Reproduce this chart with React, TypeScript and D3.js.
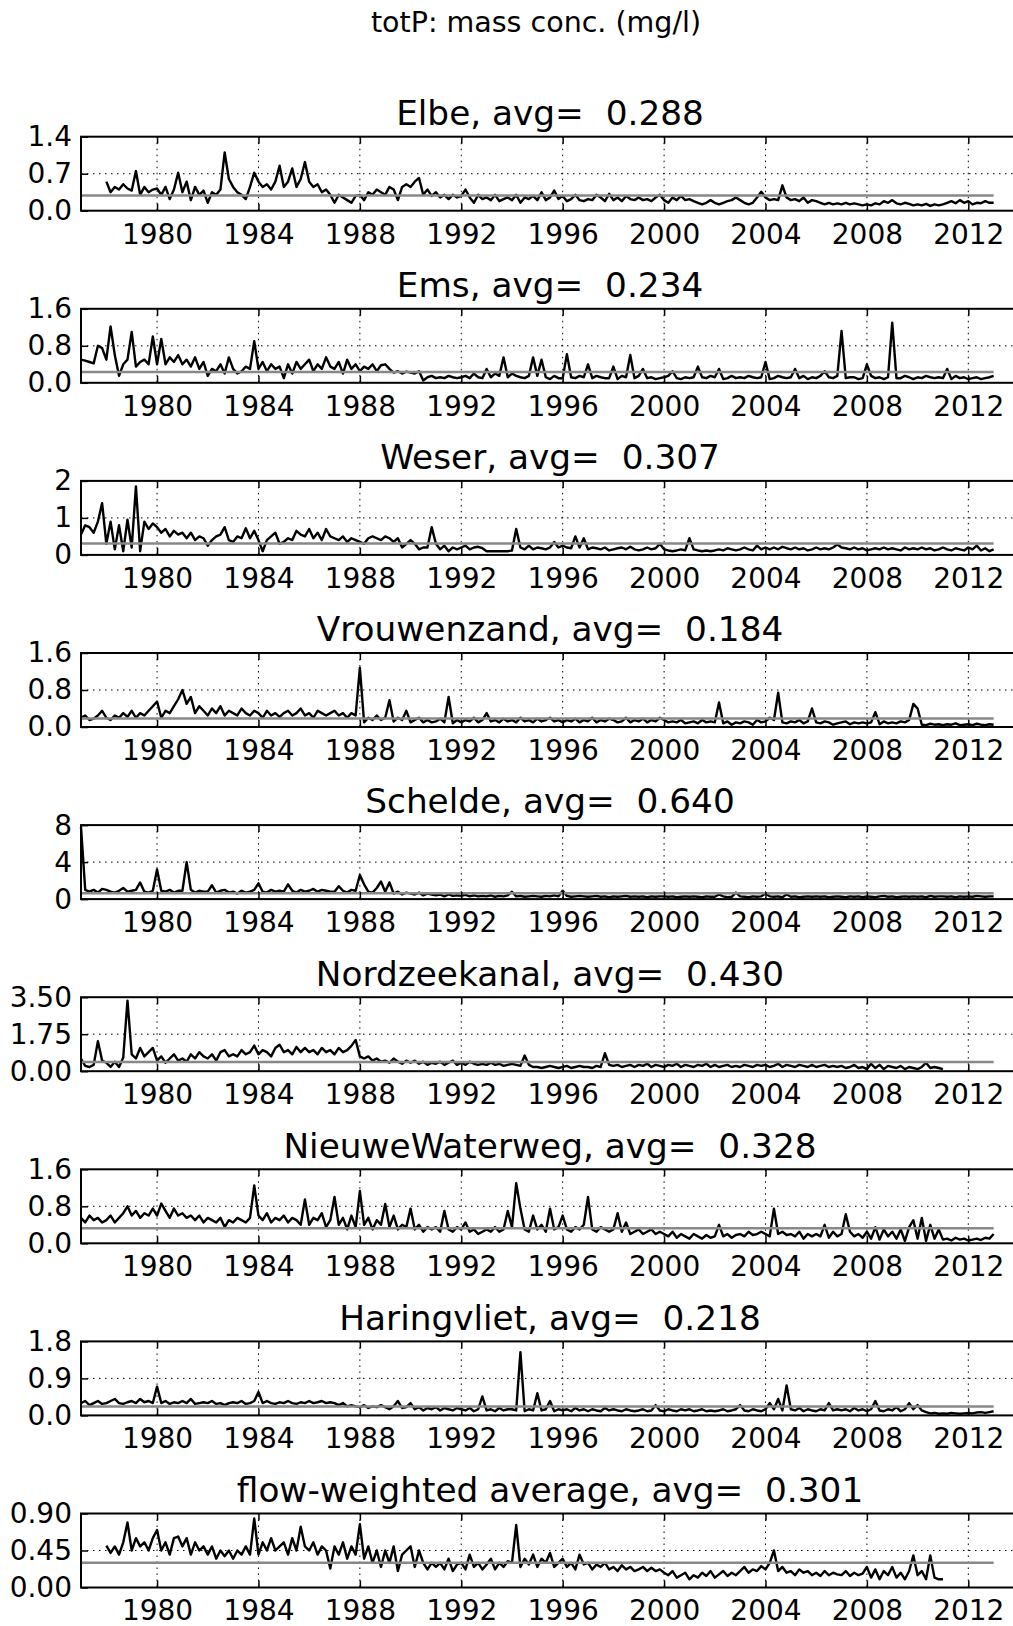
import React, { useEffect, useRef } from "react";
import * as d3 from "d3";

// stations, one panel each
const stations = [
  "Elbe",
  "Ems",
  "Weser",
  "Vrouwenzand",
  "Schelde",
  "Nordzeekanal",
  "NieuweWaterweg",
  "Haringvliet",
  "flow-weighted average",
];
const averages = [0.288, 0.234, 0.307, 0.184, 0.64, 0.43, 0.328, 0.218, 0.301];
const yTickLabels = [
  ["0.0", "0.7", "1.4"],
  ["0.0", "0.8", "1.6"],
  ["0", "1", "2"],
  ["0.0", "0.8", "1.6"],
  ["0", "4", "8"],
  ["0.00", "1.75", "3.50"],
  ["0.0", "0.8", "1.6"],
  ["0.0", "0.9", "1.8"],
  ["0.00", "0.45", "0.90"],
];
const xTickYears = [1980, 1984, 1988, 1992, 1996, 2000, 2004, 2008, 2012];
const startYears = [1978, 1977, 1977, 1977, 1977, 1977, 1977, 1977, 1978];
const samplesPerYear = 6; // bi-monthly values

// totP (mg/l), one row per year
const elbe = [
  0.55, 0.35, 0.45, 0.4, 0.5, 0.42,
  0.38, 0.75, 0.3, 0.45, 0.35, 0.4,
  0.42, 0.3, 0.45, 0.22, 0.4, 0.72,
  0.35, 0.55, 0.2, 0.45, 0.3, 0.38,
  0.15, 0.35, 0.3, 0.4, 1.1, 0.6,
  0.45, 0.35, 0.3, 0.22, 0.45, 0.72,
  0.55, 0.45, 0.5, 0.4, 0.55, 0.85,
  0.45, 0.55, 0.8, 0.45, 0.6, 0.92,
  0.55, 0.45, 0.5, 0.35, 0.4, 0.3,
  0.15, 0.3, 0.25, 0.2, 0.15, 0.28,
  0.3, 0.2, 0.35, 0.3, 0.4, 0.35,
  0.3, 0.45, 0.4, 0.2, 0.45, 0.5,
  0.45, 0.55, 0.62, 0.3, 0.4, 0.28,
  0.35, 0.25, 0.3, 0.22, 0.3, 0.25,
  0.28, 0.4, 0.25, 0.15, 0.3, 0.22,
  0.25, 0.2, 0.3, 0.18, 0.22, 0.25,
  0.2, 0.3, 0.15, 0.25, 0.22, 0.28,
  0.2, 0.35, 0.2, 0.25, 0.38, 0.22,
  0.28, 0.18, 0.22, 0.3, 0.2, 0.18,
  0.22, 0.2, 0.3, 0.25, 0.18, 0.32,
  0.2, 0.25, 0.18, 0.28, 0.22, 0.2,
  0.25, 0.2, 0.22, 0.18, 0.25, 0.3,
  0.2, 0.15, 0.25, 0.2, 0.28, 0.2,
  0.22, 0.18, 0.15, 0.12, 0.15, 0.2,
  0.15, 0.12, 0.15, 0.18, 0.2, 0.25,
  0.2, 0.15, 0.12, 0.15, 0.25, 0.36,
  0.25, 0.2, 0.22, 0.2, 0.48, 0.25,
  0.2, 0.22, 0.18, 0.25, 0.15, 0.2,
  0.18, 0.15, 0.12, 0.15, 0.12, 0.14,
  0.12, 0.15, 0.12, 0.14, 0.12, 0.1,
  0.12, 0.1, 0.14, 0.12, 0.18, 0.15,
  0.2, 0.14, 0.12, 0.15, 0.13, 0.1,
  0.12, 0.1, 0.13, 0.09, 0.12, 0.1,
  0.12, 0.15, 0.18, 0.14, 0.2, 0.15,
  0.18, 0.12, 0.15, 0.14, 0.18, 0.15,
  0.15,
];
const ems = [
  0.5, 0.48, 0.45, 0.42, 0.8, 0.75,
  0.5, 1.22, 0.6, 0.15, 0.4, 0.5,
  1.1, 0.35, 0.45, 0.5, 0.4, 1.0,
  0.4, 0.95, 0.4, 0.55, 0.45, 0.6,
  0.4, 0.5, 0.35, 0.55, 0.3, 0.45,
  0.15, 0.3, 0.25, 0.4, 0.2, 0.55,
  0.3, 0.2, 0.25, 0.35, 0.3, 0.9,
  0.3, 0.45, 0.25, 0.4, 0.3, 0.35,
  0.1, 0.4, 0.2, 0.45, 0.3, 0.4,
  0.5, 0.25, 0.4, 0.3, 0.55, 0.35,
  0.3, 0.45, 0.2, 0.5, 0.3, 0.4,
  0.25, 0.35, 0.3, 0.4, 0.25, 0.38,
  0.4, 0.3, 0.22, 0.25, 0.2, 0.24,
  0.22, 0.2, 0.25, 0.05, 0.12, 0.15,
  0.1, 0.12, 0.1, 0.15, 0.12, 0.1,
  0.12, 0.15, 0.1, 0.2, 0.12, 0.1,
  0.3, 0.12, 0.2, 0.15, 0.55, 0.12,
  0.2, 0.15, 0.12, 0.1, 0.15, 0.55,
  0.15, 0.5, 0.12, 0.08, 0.15, 0.1,
  0.1, 0.62, 0.12, 0.1, 0.15, 0.12,
  0.4, 0.1, 0.15, 0.12, 0.1, 0.1,
  0.35, 0.08, 0.15, 0.12, 0.6, 0.1,
  0.15, 0.3, 0.1, 0.12, 0.08, 0.1,
  0.12, 0.15, 0.25, 0.1, 0.08, 0.12,
  0.1, 0.12, 0.35, 0.12, 0.1, 0.15,
  0.12, 0.3, 0.08, 0.1, 0.15, 0.1,
  0.12, 0.1, 0.15, 0.12, 0.1, 0.12,
  0.45, 0.08, 0.1, 0.15, 0.12, 0.1,
  0.12, 0.3, 0.1, 0.15, 0.08, 0.12,
  0.1, 0.15, 0.25, 0.12, 0.1, 0.15,
  1.12, 0.1, 0.12, 0.12, 0.08, 0.1,
  0.4, 0.15, 0.1, 0.12, 0.08, 0.12,
  1.3, 0.1, 0.1, 0.15, 0.12, 0.08,
  0.12, 0.1, 0.15, 0.12, 0.1, 0.12,
  0.1, 0.3, 0.08, 0.15, 0.1, 0.12,
  0.08, 0.1, 0.12, 0.08, 0.1, 0.12,
  0.15,
];
const weser = [
  0.55, 0.8, 0.75, 0.6, 0.9, 1.4,
  0.3, 0.9, 0.15, 0.8, 0.1, 0.95,
  0.2, 1.85, 0.1, 0.9, 0.7, 0.85,
  0.75, 0.6, 0.7, 0.5, 0.65, 0.55,
  0.6, 0.45, 0.6, 0.4, 0.5, 0.45,
  0.25, 0.4, 0.5, 0.55, 0.75, 0.4,
  0.35, 0.5, 0.45, 0.72, 0.45, 0.65,
  0.4, 0.1, 0.4, 0.5, 0.6, 0.3,
  0.35, 0.45, 0.4, 0.65, 0.55, 0.5,
  0.7, 0.45, 0.6, 0.4, 0.7, 0.5,
  0.45, 0.4, 0.5, 0.35, 0.45, 0.4,
  0.35, 0.3, 0.45, 0.5, 0.45, 0.4,
  0.5, 0.45, 0.35, 0.45, 0.2, 0.3,
  0.4, 0.3, 0.15, 0.2, 0.2, 0.75,
  0.3, 0.15, 0.25, 0.1, 0.2, 0.15,
  0.2, 0.25, 0.15, 0.2, 0.22, 0.18,
  0.1, 0.1, 0.1, 0.1, 0.1, 0.1,
  0.12, 0.7, 0.2, 0.15, 0.25, 0.15,
  0.2, 0.18, 0.15, 0.2, 0.35, 0.2,
  0.25, 0.2, 0.18, 0.5, 0.2, 0.45,
  0.15, 0.2, 0.18, 0.15, 0.2, 0.12,
  0.15, 0.18, 0.2, 0.15, 0.22, 0.15,
  0.12, 0.15, 0.2, 0.15, 0.18, 0.3,
  0.15, 0.12, 0.1, 0.12, 0.15, 0.12,
  0.45, 0.15, 0.12, 0.1, 0.12, 0.1,
  0.12, 0.15, 0.12, 0.18, 0.15, 0.12,
  0.15, 0.2, 0.15, 0.12, 0.25, 0.15,
  0.2, 0.15, 0.2, 0.15, 0.22, 0.18,
  0.15, 0.2, 0.15, 0.18, 0.12, 0.15,
  0.2, 0.15, 0.18, 0.15, 0.2, 0.28,
  0.2, 0.18, 0.15, 0.2, 0.15, 0.18,
  0.12, 0.15, 0.18, 0.15, 0.2, 0.15,
  0.18, 0.15, 0.12, 0.2, 0.15, 0.18,
  0.15, 0.2, 0.15, 0.18, 0.12, 0.15,
  0.2, 0.15, 0.12, 0.18, 0.15, 0.12,
  0.2, 0.15, 0.25, 0.12, 0.18, 0.1,
  0.15,
];
const vrouwenzand = [
  0.2, 0.25, 0.15, 0.18, 0.25, 0.35,
  0.2, 0.15, 0.25, 0.2, 0.3, 0.22,
  0.35, 0.2, 0.3, 0.25, 0.35, 0.45,
  0.55, 0.2, 0.35, 0.3, 0.45, 0.6,
  0.8, 0.5, 0.65, 0.3, 0.45, 0.35,
  0.25, 0.4, 0.3, 0.45, 0.25, 0.35,
  0.3, 0.25, 0.4, 0.3, 0.25, 0.35,
  0.3, 0.2, 0.35, 0.25, 0.3, 0.22,
  0.3, 0.35, 0.25, 0.3, 0.4, 0.25,
  0.3, 0.2, 0.35, 0.3, 0.25, 0.3,
  0.35, 0.25, 0.3, 0.2, 0.3, 0.25,
  1.28, 0.1, 0.2, 0.15, 0.25, 0.15,
  0.2, 0.58, 0.12, 0.2, 0.15, 0.35,
  0.1, 0.15, 0.2, 0.1, 0.15, 0.1,
  0.12, 0.18, 0.1, 0.65, 0.08, 0.15,
  0.1, 0.15, 0.12, 0.2, 0.1, 0.15,
  0.3, 0.12, 0.15, 0.1, 0.18, 0.12,
  0.15, 0.1, 0.2, 0.12, 0.15, 0.1,
  0.18, 0.12, 0.15, 0.2, 0.12, 0.15,
  0.1, 0.15, 0.12, 0.18, 0.1, 0.15,
  0.12, 0.2, 0.1, 0.15, 0.12, 0.18,
  0.15, 0.1, 0.12, 0.2, 0.1, 0.15,
  0.12, 0.18, 0.1, 0.15, 0.12, 0.2,
  0.15, 0.1, 0.12, 0.1, 0.15, 0.08,
  0.1, 0.12, 0.08, 0.15, 0.1, 0.12,
  0.1, 0.53, 0.08, 0.12, 0.05, 0.1,
  0.08, 0.12, 0.1, 0.05, 0.15, 0.1,
  0.12, 0.2, 0.15, 0.74, 0.1, 0.08,
  0.12, 0.1, 0.15, 0.08, 0.12, 0.4,
  0.1, 0.08, 0.12, 0.1, 0.05, 0.08,
  0.1, 0.12, 0.06, 0.1, 0.08, 0.1,
  0.08, 0.1, 0.32, 0.06, 0.12, 0.08,
  0.1, 0.08, 0.12, 0.1, 0.15, 0.5,
  0.4, 0.05, 0.04, 0.07, 0.05, 0.06,
  0.04, 0.06, 0.05, 0.08, 0.04, 0.05,
  0.06, 0.04, 0.07, 0.05, 0.04, 0.06,
  0.05,
];
const schelde = [
  7.8, 1.0, 0.8, 1.0, 0.7, 1.1,
  1.0, 0.8, 0.7, 0.9, 1.2, 0.8,
  0.9, 1.0, 1.8, 0.8, 0.7, 0.9,
  3.2, 0.9, 0.8, 1.0, 0.7, 0.9,
  0.9, 4.0, 1.0, 0.7, 0.9, 0.8,
  0.8, 1.5, 0.7, 0.9, 1.0, 0.7,
  0.8, 0.6, 0.9, 0.7, 0.8, 1.0,
  1.7, 0.8, 0.7, 1.0, 0.8, 0.9,
  0.8, 1.6, 0.9, 0.7, 1.0, 0.8,
  0.9, 1.1, 0.8, 1.0, 0.9, 0.8,
  0.8, 1.4, 0.9, 0.7, 1.0, 0.9,
  2.6, 1.6, 0.8, 0.7, 1.2, 1.9,
  0.8, 1.8, 0.6, 0.8, 0.5, 0.7,
  0.6, 0.5, 0.7, 0.4, 0.6, 0.5,
  0.4, 0.5, 0.3, 0.5, 0.35, 0.4,
  0.35, 0.45, 0.3, 0.4, 0.3, 0.35,
  0.3, 0.4, 0.25, 0.35, 0.3, 0.4,
  0.8, 0.3, 0.35, 0.25, 0.3, 0.35,
  0.3, 0.25, 0.35, 0.3, 0.4, 0.3,
  0.9, 0.35, 0.25, 0.3, 0.35, 0.3,
  0.25, 0.3, 0.35, 0.25, 0.3, 0.2,
  0.3, 0.25, 0.3, 0.35, 0.25, 0.3,
  0.25, 0.3, 0.2, 0.3, 0.25, 0.3,
  0.3, 0.25, 0.3, 0.2, 0.25, 0.3,
  0.25, 0.3, 0.25, 0.2, 0.3, 0.25,
  0.25, 0.5, 0.3, 0.2, 0.25, 0.7,
  0.3, 0.25, 0.2, 0.3, 0.25, 0.3,
  0.6, 0.3, 0.25, 0.3, 0.2, 0.5,
  0.25, 0.3, 0.2, 0.25, 0.3, 0.25,
  0.3, 0.25, 0.3, 0.2, 0.25, 0.3,
  0.25, 0.2, 0.3, 0.25, 0.3, 0.2,
  0.3, 0.25, 0.2, 0.3, 0.35, 0.25,
  0.3, 0.2, 0.25, 0.3, 0.25, 0.3,
  0.25, 0.3, 0.2, 0.35, 0.25, 0.3,
  0.3, 0.25, 0.3, 0.2, 0.3, 0.25,
  0.3, 0.25, 0.35, 0.3, 0.25, 0.3,
  0.3,
];
const nordzeekanal = [
  0.58, 0.25, 0.2, 0.3, 1.42, 0.5,
  0.4, 0.2, 0.45, 0.2, 0.65, 3.34,
  0.8, 0.6, 1.1, 0.7, 0.9, 1.1,
  0.5, 0.7, 0.4, 0.6, 0.8, 0.5,
  0.6, 0.45, 0.8, 0.6, 0.9, 0.7,
  0.6, 0.8, 0.5, 0.9, 1.0, 0.7,
  0.8, 0.7, 1.0, 0.8, 0.9, 1.21,
  0.8, 1.0, 0.9, 0.7, 1.1, 1.25,
  0.9, 1.0, 0.8, 1.15, 0.9, 1.1,
  0.9, 1.0, 0.8, 1.1, 0.9, 1.0,
  0.8, 1.1, 0.9, 1.0, 1.2, 1.48,
  0.7, 0.6, 0.7, 0.5, 0.6, 0.45,
  0.5, 0.4, 0.6, 0.45, 0.35, 0.5,
  0.4, 0.5, 0.35, 0.45, 0.3, 0.4,
  0.35, 0.45, 0.3, 0.4, 0.5, 0.3,
  0.4, 0.3, 0.45, 0.35, 0.3, 0.35,
  0.3, 0.4, 0.3, 0.35, 0.25, 0.3,
  0.35, 0.3, 0.25, 0.74, 0.3, 0.2,
  0.2, 0.15, 0.2, 0.25, 0.2, 0.15,
  0.2, 0.25, 0.15, 0.2, 0.25, 0.2,
  0.2, 0.15, 0.25, 0.2, 0.85, 0.3,
  0.25, 0.3, 0.2, 0.25, 0.3, 0.2,
  0.3, 0.25, 0.35, 0.2, 0.3, 0.25,
  0.2, 0.3, 0.25, 0.35, 0.2, 0.3,
  0.25, 0.2, 0.3, 0.25, 0.35, 0.2,
  0.3, 0.2, 0.25, 0.3, 0.2, 0.25,
  0.2, 0.3, 0.25, 0.2, 0.3, 0.25,
  0.3, 0.2, 0.25, 0.35, 0.2, 0.3,
  0.25, 0.2, 0.3, 0.25, 0.2, 0.3,
  0.2, 0.25, 0.3, 0.2, 0.25, 0.2,
  0.25, 0.15, 0.2, 0.3, 0.15, 0.2,
  0.1, 0.35, 0.15, 0.3, 0.1, 0.25,
  0.2, 0.15, 0.25, 0.1, 0.2, 0.15,
  0.1, 0.2, 0.4, 0.15, 0.2, 0.15,
  0.1,
];
const nieuweWaterweg = [
  0.55, 0.45, 0.6, 0.5, 0.55, 0.45,
  0.5, 0.6, 0.45, 0.55, 0.65, 0.8,
  0.6, 0.7, 0.55, 0.65, 0.6, 0.75,
  0.6, 0.86, 0.7, 0.55, 0.75, 0.6,
  0.65, 0.55, 0.6, 0.5, 0.6, 0.45,
  0.55, 0.5, 0.45, 0.55, 0.35, 0.5,
  0.45, 0.55, 0.5, 0.45, 0.55, 1.25,
  0.6, 0.5, 0.65, 0.45, 0.55, 0.5,
  0.6, 0.45, 0.55, 0.5, 0.4, 0.95,
  0.4, 0.55, 0.5, 0.65, 0.35, 0.5,
  1.0, 0.4, 0.55, 0.3, 0.6, 0.35,
  1.13, 0.4, 0.55, 0.3, 0.5, 0.4,
  0.85, 0.35, 0.6, 0.3, 0.4, 0.35,
  0.75, 0.3, 0.4, 0.25, 0.35, 0.3,
  0.35, 0.25, 0.7, 0.3, 0.25, 0.35,
  0.3, 0.45, 0.25, 0.3, 0.2, 0.25,
  0.3, 0.25, 0.35, 0.25, 0.3, 0.7,
  0.35, 1.3, 0.75, 0.3, 0.25, 0.6,
  0.3, 0.4, 0.25, 0.75, 0.3, 0.35,
  0.6, 0.3, 0.25, 0.35, 0.3, 0.4,
  1.0, 0.3, 0.25, 0.35, 0.3, 0.25,
  0.3, 0.65, 0.25, 0.45, 0.2, 0.25,
  0.3, 0.2, 0.25, 0.3, 0.2, 0.25,
  0.2, 0.15, 0.25, 0.12, 0.2, 0.15,
  0.1, 0.2, 0.15, 0.1, 0.18, 0.12,
  0.15, 0.4, 0.15, 0.2, 0.12, 0.18,
  0.2, 0.15, 0.25, 0.18, 0.2, 0.25,
  0.2, 0.15, 0.75, 0.2, 0.25, 0.18,
  0.2, 0.15, 0.25, 0.1, 0.2, 0.15,
  0.2, 0.15, 0.4, 0.12, 0.25, 0.15,
  0.2, 0.63, 0.25, 0.15, 0.2, 0.12,
  0.25, 0.1, 0.35, 0.08, 0.3, 0.15,
  0.25, 0.1, 0.3, 0.05, 0.35, 0.5,
  0.1, 0.55, 0.05, 0.4, 0.1, 0.3,
  0.08, 0.1, 0.06, 0.12, 0.08, 0.1,
  0.06, 0.08, 0.1, 0.07, 0.12, 0.1,
  0.2,
];
const haringvliet = [
  0.3, 0.35, 0.25, 0.3, 0.35, 0.28,
  0.3, 0.35, 0.4, 0.3, 0.28, 0.32,
  0.35, 0.3, 0.4, 0.32, 0.35, 0.3,
  0.7, 0.3, 0.35, 0.28, 0.32, 0.3,
  0.35, 0.3, 0.4, 0.28, 0.3, 0.32,
  0.3, 0.35, 0.28, 0.3, 0.25, 0.3,
  0.32, 0.3, 0.35, 0.28, 0.3, 0.35,
  0.57, 0.3, 0.35, 0.3, 0.28, 0.32,
  0.3, 0.35, 0.3, 0.28, 0.32, 0.3,
  0.35, 0.3, 0.32, 0.35, 0.3, 0.32,
  0.3, 0.25, 0.3, 0.22, 0.25, 0.22,
  0.2, 0.25, 0.18, 0.22, 0.2, 0.25,
  0.2, 0.15, 0.22, 0.35, 0.18, 0.2,
  0.3, 0.15, 0.2, 0.12, 0.18, 0.15,
  0.2, 0.12, 0.18, 0.15, 0.12, 0.18,
  0.15, 0.12, 0.18, 0.1, 0.15, 0.46,
  0.12, 0.15, 0.1, 0.18, 0.12, 0.15,
  0.15, 0.12, 1.54, 0.1, 0.15, 0.12,
  0.54, 0.12, 0.15, 0.35, 0.1, 0.15,
  0.12, 0.15, 0.1, 0.18, 0.12, 0.15,
  0.1, 0.15, 0.12, 0.1, 0.18, 0.12,
  0.15, 0.12, 0.1, 0.15, 0.12, 0.1,
  0.12, 0.15, 0.1, 0.12, 0.25, 0.12,
  0.1, 0.15, 0.12, 0.1, 0.15, 0.12,
  0.15, 0.1, 0.12, 0.15, 0.1, 0.12,
  0.1, 0.12, 0.15, 0.1, 0.12, 0.15,
  0.25, 0.12, 0.1, 0.15, 0.12, 0.1,
  0.15, 0.3, 0.15, 0.4, 0.12, 0.73,
  0.15, 0.12, 0.18, 0.1, 0.15, 0.12,
  0.1, 0.15, 0.12, 0.3, 0.12, 0.15,
  0.12, 0.15, 0.1, 0.18, 0.12, 0.15,
  0.1, 0.15, 0.35, 0.12, 0.1, 0.15,
  0.12, 0.2, 0.1, 0.15, 0.3, 0.15,
  0.25, 0.12, 0.08, 0.05, 0.06, 0.04,
  0.05, 0.04, 0.06, 0.05, 0.04, 0.05,
  0.06, 0.05, 0.07, 0.08, 0.06, 0.08,
  0.1,
];
const flowWeighted = [
  0.51, 0.42, 0.5, 0.4, 0.55, 0.79,
  0.45, 0.6, 0.5, 0.55, 0.45, 0.6,
  0.7, 0.45, 0.55, 0.4, 0.6, 0.62,
  0.5, 0.6, 0.4, 0.55, 0.45, 0.5,
  0.4, 0.5, 0.35, 0.45, 0.38, 0.45,
  0.35, 0.45, 0.4, 0.5, 0.4, 0.84,
  0.4, 0.55, 0.45, 0.6, 0.45, 0.5,
  0.55, 0.4, 0.6, 0.45, 0.74, 0.5,
  0.45, 0.55, 0.4, 0.5, 0.45, 0.23,
  0.5, 0.4, 0.55, 0.35, 0.5, 0.4,
  0.77, 0.35, 0.5, 0.3, 0.45, 0.25,
  0.45, 0.3, 0.5, 0.2, 0.4, 0.45,
  0.5, 0.25, 0.45, 0.3, 0.22, 0.3,
  0.25, 0.3, 0.22, 0.35, 0.2, 0.28,
  0.3, 0.22, 0.4, 0.25, 0.3, 0.22,
  0.28, 0.35, 0.22, 0.3, 0.25, 0.32,
  0.3, 0.76, 0.25, 0.35, 0.28, 0.4,
  0.25, 0.35, 0.3, 0.42, 0.25, 0.3,
  0.35, 0.25, 0.3, 0.22, 0.4, 0.28,
  0.3, 0.22, 0.28, 0.25, 0.3, 0.22,
  0.25, 0.2, 0.27, 0.22, 0.25, 0.2,
  0.22, 0.25, 0.2, 0.24, 0.2, 0.22,
  0.18, 0.15, 0.2, 0.12, 0.15, 0.18,
  0.1, 0.15, 0.12, 0.18, 0.14, 0.2,
  0.12, 0.16, 0.2, 0.14, 0.18, 0.15,
  0.2, 0.25, 0.18, 0.22, 0.2, 0.26,
  0.22, 0.3, 0.45, 0.2, 0.25, 0.18,
  0.2, 0.15, 0.22, 0.18, 0.2, 0.15,
  0.18, 0.14, 0.2, 0.15, 0.18, 0.16,
  0.15, 0.2, 0.14, 0.18, 0.15, 0.17,
  0.25, 0.12, 0.22, 0.1, 0.2, 0.15,
  0.25, 0.12, 0.18, 0.1, 0.2, 0.39,
  0.15, 0.2, 0.1, 0.39, 0.12, 0.1,
  0.1,
];
const series = [elbe, ems, weser, vrouwenzand, schelde, nordzeekanal, nieuweWaterweg, haringvliet, flowWeighted];

const App = () => {
  const ref = useRef<SVGSVGElement>(null);

  useEffect(() => {
    makeChart();
  }, []);

  const makeChart = () => {
    const width = 1013;
    const height = 1626;
    const font = "DejaVu Sans";
    const left = 81;
    const right = 1019; // right spine falls just outside the picture
    const top0 = 136.7;
    const panelStep = 172.1;
    const panelH = 74;

    const svg = d3.select(ref.current);
    svg.selectAll("*").remove();
    svg.attr("width", width).attr("height", height);

    svg
      .append("text")
      .attr("x", 536)
      .attr("y", 32)
      .attr("text-anchor", "middle")
      .attr("font-family", font)
      .attr("font-size", 28.5)
      .text("totP: mass conc. (mg/l)");

    const x = d3.scaleLinear().domain([1977, 2014]).range([left, right]);

    stations.forEach((name, i) => {
      const top = top0 + i * panelStep;
      const bottom = top + panelH;
      const ticks = yTickLabels[i].map(Number);
      const y = d3.scaleLinear().domain([0, ticks[2]]).range([bottom, top]);
      const g = svg.append("g");

      // dotted grid
      g.append("g")
        .selectAll("line")
        .data(xTickYears)
        .enter()
        .append("line")
        .attr("x1", (d) => x(d))
        .attr("x2", (d) => x(d))
        .attr("y1", top)
        .attr("y2", bottom)
        .attr("stroke", "#000")
        .attr("stroke-width", 1)
        .attr("stroke-dasharray", "1.5,4.5");
      g.append("line")
        .attr("x1", left)
        .attr("x2", right)
        .attr("y1", y(ticks[1]))
        .attr("y2", y(ticks[1]))
        .attr("stroke", "#000")
        .attr("stroke-width", 1)
        .attr("stroke-dasharray", "1.5,4.5");

      // data
      const pts: [number, number][] = series[i].map((v, k) => [startYears[i] + k / samplesPerYear, v]);
      const line = d3
        .line<[number, number]>()
        .x((d) => x(d[0]))
        .y((d) => y(d[1]));
      g.append("path")
        .datum(pts)
        .attr("fill", "none")
        .attr("stroke", "#000")
        .attr("stroke-width", 2.4)
        .attr("stroke-linejoin", "round")
        .attr("d", line);

      // average line
      g.append("line")
        .attr("x1", x(1977))
        .attr("x2", x(2013))
        .attr("y1", y(averages[i]))
        .attr("y2", y(averages[i]))
        .attr("stroke", "#888")
        .attr("stroke-width", 2.5);

      // axes, ticks inside
      const xAxis = g
        .append("g")
        .attr("transform", `translate(0, ${bottom})`)
        .call(
          d3
            .axisBottom(x)
            .tickValues(xTickYears)
            .tickFormat(d3.format("d"))
            .tickSize(-7)
            .tickPadding(13)
        );
      const xTop = g
        .append("g")
        .attr("transform", `translate(0, ${top})`)
        .call(d3.axisTop(x).tickValues(xTickYears).tickFormat(() => "").tickSize(-7));
      const yAxis = g
        .append("g")
        .attr("transform", `translate(${left}, 0)`)
        .call(
          d3
            .axisLeft(y)
            .tickValues(ticks)
            // @ts-ignore
            .tickFormat((d, j) => yTickLabels[i][j])
            .tickSize(-7)
            .tickPadding(9)
        );
      [xAxis, xTop, yAxis].forEach((a) => {
        a.select(".domain").remove();
        a.attr("font-family", font).attr("font-size", 28);
        a.selectAll("line").attr("stroke", "#000").attr("stroke-width", 1.5);
        a.selectAll("text").attr("fill", "#000");
      });

      // frame
      g.append("rect")
        .attr("x", left)
        .attr("y", top)
        .attr("width", right - left)
        .attr("height", panelH)
        .attr("fill", "none")
        .attr("stroke", "#000")
        .attr("stroke-width", 2);

      g.append("text")
        .attr("x", (left + right) / 2)
        .attr("y", top - 11.7)
        .attr("text-anchor", "middle")
        .attr("font-family", font)
        .attr("font-size", 34.3)
        .style("white-space", "pre")
        .text(`${name}, avg=  ${averages[i].toFixed(3)}`);
    });
  };

  return (
    <svg
      ref={ref}
      style={{ position: "absolute", left: 0, top: 0, background: "#fff" }}
    />
  );
};
export default App;
